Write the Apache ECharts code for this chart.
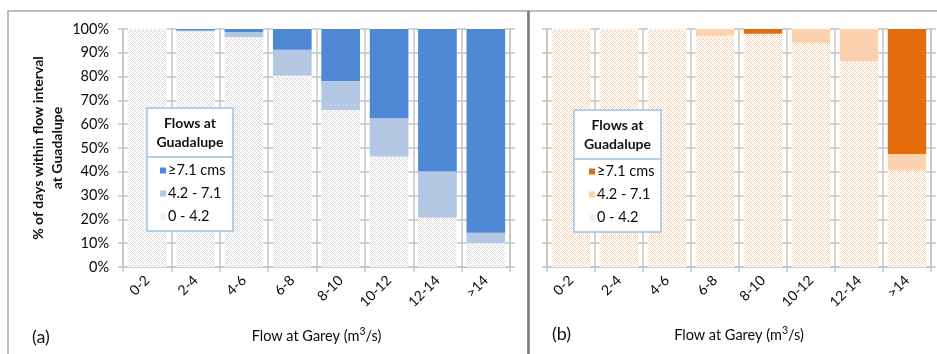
<!DOCTYPE html>
<html>
<head>
<meta charset="utf-8">
<script src="https://cdn.jsdelivr.net/npm/echarts@6/dist/echarts.min.js"></script>
<style>
  html, body { margin: 0; padding: 0; background: #fff; }
  #main { width: 937px; height: 354px; }
</style>
</head>
<body>
<div id="main"></div>
<script>
// flow classes at Garey
const categories = ['0-2', '2-4', '4-6', '6-8', '8-10', '10-12', '12-14', '>14'];
const yTicks = [0, 10, 20, 30, 40, 50, 60, 70, 80, 90, 100];

// (a) % of days, Guadalupe flow class
const aLow  = [100, 99.1, 96.6, 80.4, 66.0, 46.4, 20.7, 10.0];
const aMid  = [0, 0.3, 2.0, 10.9, 12.2, 16.1, 19.4, 4.4];
const aHigh = [0, 0.6, 1.4, 8.7, 21.8, 37.5, 59.9, 85.6];

// (b)
const bLow  = [100, 100, 100, 97.2, 98.0, 94.2, 86.5, 40.5];
const bMid  = [0, 0, 0, 2.8, 0, 5.8, 13.5, 7.0];
const bHigh = [0, 0, 0, 0, 2.0, 0, 0, 52.5];

const legendNames = { aHigh: '≥7.1 cms', aMid: '4.2 - 7.1', aLow: '0 - 4.2',
                      bHigh: '≥7.1 cms', bMid: '4.2 - 7.1', bLow: '0 - 4.2' };

// little crosshatch tile for the lowest class
function hatch(fg) {
  const c = document.createElement('canvas');
  c.width = 4; c.height = 4;
  const ctx = c.getContext('2d');
  ctx.fillStyle = '#fff';
  ctx.fillRect(0, 0, 4, 4);
  ctx.fillStyle = fg;
  for (let x = 0; x < 4; x++) {
    for (let y = 0; y < 4; y++) {
      if ((x + y) % 4 === 0 || (x - y + 4) % 4 === 0) ctx.fillRect(x, y, 1, 1);
    }
  }
  return { image: c, repeat: 'repeat' };
}

const FONT = 'Lato';
const gridCol = '#c4c4c4';

function xAx(gi, gap) {
  return {
    type: 'category', gridIndex: gi, data: categories, boundaryGap: true,
    axisLine: { lineStyle: { color: gridCol, width: 1.5 } },
    axisTick: { show: true, length: 5, lineStyle: { color: gridCol, width: 1.5 } },
    splitLine: { show: true, lineStyle: { color: gridCol, width: 1.5 } },
    axisLabel: { rotate: 45, interval: 0, margin: 11, fontSize: 14, color: '#0a0a0a', fontFamily: FONT },
    name: 'Flow at Garey (m{sup|3}/s)', nameLocation: 'middle', nameGap: gap,
    nameTextStyle: {
      fontSize: 14.5, color: '#0a0a0a', fontFamily: FONT,
      rich: { sup: { fontSize: 10.5, color: '#0a0a0a', fontFamily: FONT, padding: [0, 0, 9, 0] } }
    }
  };
}

function yAx(gi, catW, showLabels) {
  return {
    type: 'value', gridIndex: gi, min: 0, max: 100, interval: 10,
    axisLine: { show: true, lineStyle: { color: gridCol, width: 1.5 } },
    axisTick: { show: true, length: 5, lineStyle: { color: gridCol, width: 1.5 } },
    axisLabel: { show: showLabels, formatter: '{value}%', margin: 14, fontSize: 14.5, color: '#0a0a0a', fontFamily: FONT },
    splitLine: { show: true, lineStyle: { color: gridCol, width: 1.5, type: [10, catW - 10], dashOffset: 5 } }
  };
}

function yRight(gi) {
  return {
    type: 'value', gridIndex: gi, min: 0, max: 100, interval: 10, position: 'right',
    axisLine: { show: true, lineStyle: { color: gridCol, width: 1.5 } },
    axisTick: { show: true, length: 5, lineStyle: { color: gridCol, width: 1.5 } },
    axisLabel: { show: false }, splitLine: { show: false }
  };
}

function bar(name, data, yi, xi, stack, color) {
  return {
    name: name, type: 'bar', stack: stack, xAxisIndex: xi, yAxisIndex: yi,
    barCategoryGap: '20%', data: data, itemStyle: { color: color }
  };
}

function legend(left, top, names) {
  return {
    orient: 'vertical', left: left, top: top, z: 60, itemGap: 8,
    itemWidth: 6, itemHeight: 6, icon: 'rect', data: names,
    formatter: function (n) { return legendNames[n]; },
    textStyle: { fontSize: 14.5, color: '#0a0a0a', fontFamily: FONT, padding: [0, 0, 0, -3] },
    selectedMode: false
  };
}

function legendBox(x, y, w, h, sep, cx) {
  return [
    { type: 'rect', z: 50, shape: { x: x, y: y, width: w, height: h },
      style: { fill: '#fff', stroke: '#9dc3e6', lineWidth: 1.5 } },
    { type: 'line', z: 51, shape: { x1: x, y1: sep, x2: x + w, y2: sep },
      style: { stroke: '#9dc3e6', lineWidth: 1.5 } },
    { type: 'text', z: 52, x: cx, y: (y + sep) / 2,
      style: { text: 'Flows at\nGuadalupe', fontSize: 14, fontWeight: 'bold', fontFamily: FONT,
               fill: '#111', align: 'center', verticalAlign: 'middle', lineHeight: 19 } }
  ];
}

const chart = echarts.init(document.getElementById('main'));
const option = {
  animation: false,
  backgroundColor: '#fff',
  grid: [
    { left: 123, top: 29, width: 387, height: 238 },
    { left: 547, top: 29, width: 384, height: 238 }
  ],
  xAxis: [xAx(0, 59), xAx(1, 58)],
  yAxis: [
    Object.assign(yAx(0, 387 / 8, true), {
      name: '% of days within flow interval\nat Guadalupe', nameLocation: 'middle', nameGap: 56,
      nameTextStyle: { fontSize: 14, fontWeight: 'bold', color: '#111', fontFamily: FONT, lineHeight: 19 }
    }),
    yRight(0),
    yAx(1, 384 / 8, false),
    yRight(1)
  ],
  legend: [
    legend(155, 158, ['aHigh', 'aMid', 'aLow']),
    legend(584, 159, ['bHigh', 'bMid', 'bLow'])
  ],
  series: [
    bar('aLow', aLow, 0, 0, 'a', hatch('#d9d9d9')),
    bar('aMid', aMid, 0, 0, 'a', '#b4c8e4'),
    bar('aHigh', aHigh, 0, 0, 'a', '#4f89d6'),
    bar('bLow', bLow, 2, 1, 'b', hatch('#f9d0b0')),
    bar('bMid', bMid, 2, 1, 'b', '#fbd1ae'),
    bar('bHigh', bHigh, 2, 1, 'b', '#e46c0a')
  ],
  graphic: [
    { type: 'rect', z: 0, shape: { x: 8, y: 11, width: 520, height: 360 },
      style: { fill: null, stroke: '#a6a6a6', lineWidth: 1.5 } },
    { type: 'line', z: 0, shape: { x1: 528, y1: 11, x2: 940, y2: 11 },
      style: { stroke: '#a6a6a6', lineWidth: 1.5 } },
    { type: 'line', z: 1, shape: { x1: 528.5, y1: 11, x2: 528.5, y2: 360 },
      style: { stroke: '#7a7a7a', lineWidth: 2.5 } },
    { type: 'text', x: 32, y: 337,
      style: { text: '(a)', fontSize: 18, fontFamily: FONT, fill: '#111', verticalAlign: 'middle' } },
    { type: 'text', x: 552, y: 334,
      style: { text: '(b)', fontSize: 18, fontFamily: FONT, fill: '#111', verticalAlign: 'middle' } }
  ].concat(legendBox(147, 108, 86, 123, 157, 190), legendBox(574, 110, 87, 122, 159, 617.5))
};
chart.setOption(option);
window.addEventListener('resize', () => {
  chart.resize();
});
</script>
</body>
</html>
